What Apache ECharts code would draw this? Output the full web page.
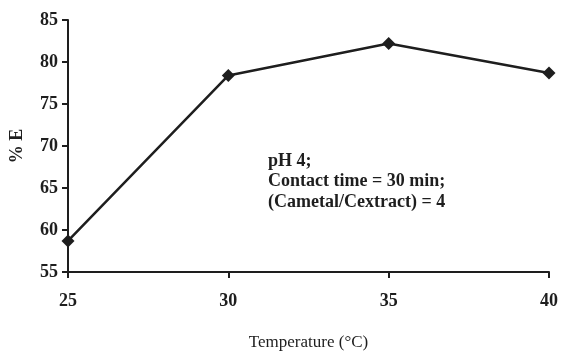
<!DOCTYPE html>
<html>
<head>
<meta charset="utf-8">
<script src="https://cdn.jsdelivr.net/npm/echarts@6/dist/echarts.min.js"></script>
<style>
  html, body { margin: 0; padding: 0; background: #fff; }
  #chart { width: 569px; height: 352px; }
</style>
</head>
<body>
<div id="chart"></div>
<script>
// temperature (°C) vs % extraction
const temperatures = [25, 30, 35, 40];
const extraction = [58.7, 78.4, 82.2, 78.7];
const noteLines = ["pH 4;", "Contact time = 30 min;", "(Cametal/Cextract) = 4"];

const ink = "#1e1e1e";
const serif = "'Liberation Serif', 'DejaVu Serif', serif";

const chart = echarts.init(document.getElementById("chart"));

const option = {
    animation: false,
    grid: { left: 68, right: 20, top: 20, bottom: 80, outerBoundsMode: "none" },
    xAxis: {
        type: "value",
        min: 25,
        max: 40,
        interval: 5,
        name: "Temperature (°C)",
        nameLocation: "middle",
        nameGap: 62,
        nameTextStyle: { fontFamily: serif, fontSize: 17, color: ink },
        axisLine: { lineStyle: { color: ink, width: 2 } },
        axisTick: { length: 6, lineStyle: { color: ink, width: 2 } },
        axisLabel: { fontFamily: serif, fontSize: 18, fontWeight: "bold", color: ink, margin: 20 },
        splitLine: { show: false }
    },
    yAxis: {
        type: "value",
        min: 55,
        max: 85,
        interval: 5,
        name: "% E",
        nameLocation: "middle",
        nameGap: 42,
        nameTextStyle: { fontFamily: serif, fontSize: 18, fontWeight: "bold", color: ink },
        axisLine: { show: true, lineStyle: { color: ink, width: 2 } },
        axisTick: { show: true, length: 6, lineStyle: { color: ink, width: 2 } },
        axisLabel: { fontFamily: serif, fontSize: 18, fontWeight: "bold", color: ink, margin: 10 },
        splitLine: { show: false }
    },
    series: [
        {
            type: "line",
            data: temperatures.map((t, i) => [t, extraction[i]]),
            symbol: "diamond",
            symbolSize: 13,
            itemStyle: { color: ink },
            lineStyle: { color: ink, width: 2.5 }
        }
    ],
    graphic: [
        {
            type: "text",
            left: 268,
            top: 151,
            style: {
                text: noteLines.join("\n"),
                font: "bold 18px " + serif,
                lineHeight: 20.5,
                fill: ink
            }
        }
    ]
};

chart.setOption(option);
</script>
</body>
</html>
